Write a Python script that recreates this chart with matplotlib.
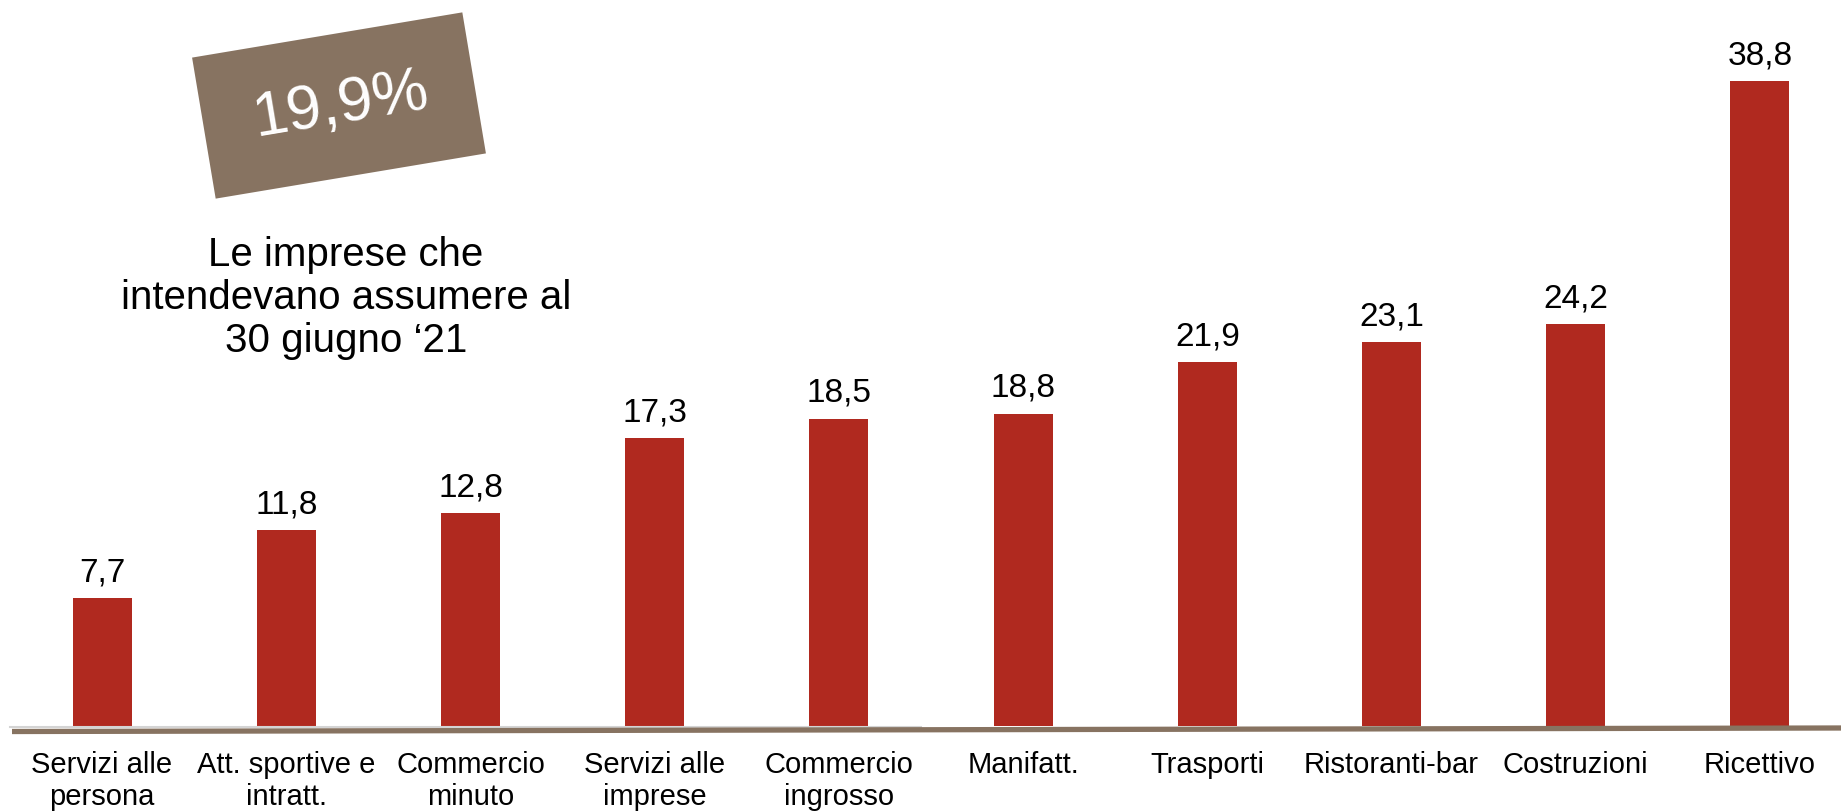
import numpy as np
import matplotlib
matplotlib.use("Agg")
import matplotlib.pyplot as plt
from matplotlib.patches import Polygon
from matplotlib.lines import Line2D

plt.rcParams["font.family"] = ["Liberation Sans", "DejaVu Sans"]

categories = ["Servizi alle\npersona", "Att. sportive e\nintratt.", "Commercio\nminuto",
              "Servizi alle\nimprese", "Commercio\ningrosso", "Manifatt.", "Trasporti",
              "Ristoranti-bar", "Costruzioni", "Ricettivo"]
values = [7.7, 11.8, 12.8, 17.3, 18.5, 18.8, 21.9, 23.1, 24.2, 38.8]
labels = [f"{v:.1f}".replace(".", ",") for v in values]
badge_text = "19,9%"
note_text = "Le imprese che\nintendevano assumere al\n30 giugno \u201821"

BAR = "#B0291F"
BROWN = "#877361"
W, H = 1841, 811

fig = plt.figure(figsize=(W / 100, H / 100), dpi=100)
ax = fig.add_axes([0, 85 / H, 1, 726 / H])
x = np.arange(len(values))
ax.bar(x, values, width=0.32, color=BAR, zorder=3)
for xi, v, lab in zip(x, values, labels):
    ax.annotate(lab, (xi, v), xytext=(0, 7), textcoords="offset points",
                ha="center", va="bottom", fontsize=24)
ax.set_xlim(-0.554, 9.44)
ax.set_ylim(0, 43.68)
ax.set_yticks([])
ax.set_xticks(x)
ax.set_xticklabels(categories, fontsize=21)
for lab in ax.get_xticklabels():
    lab.set_linespacing(1.2)
ax.tick_params(axis="x", length=0, pad=18)
for s in ax.spines.values():
    s.set_visible(False)

# baseline: light grey line plus slightly tilted brown rule
fig.add_artist(Line2D([10 / W, 0.5], [1 - 727 / H, 1 - 727 / H], color="#d4d4d4", lw=1.5))
fig.add_artist(Line2D([12 / W, 1], [1 - 731.5 / H, 1 - 728 / H], color=BROWN, lw=3.8,
                      solid_capstyle="butt"))

# rotated badge
cx, cy = 339, H - 105.5
bw, bh = 274, 143
ang = np.deg2rad(9.5)
c, s = np.cos(ang), np.sin(ang)
pts = []
for dx, dy in [(-bw / 2, -bh / 2), (bw / 2, -bh / 2), (bw / 2, bh / 2), (-bw / 2, bh / 2)]:
    px = cx + dx * c - dy * s
    py = cy + dx * s + dy * c
    pts.append((px / W, py / H))
fig.add_artist(Polygon(pts, closed=True, facecolor=BROWN, edgecolor="none",
                       transform=fig.transFigure))
fig.text(341 / W, 1 - 105 / H, badge_text, color="white", fontsize=45, rotation=9.5,
         ha="center", va="center", rotation_mode="anchor")

fig.text(346 / W, 1 - 298 / H, note_text, fontsize=29, ha="center", va="center",
         linespacing=1.17)

fig.savefig("out.png", dpi=100)
